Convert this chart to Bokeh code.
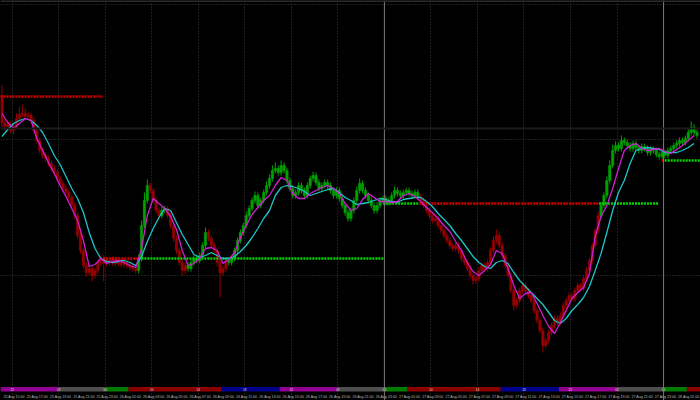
from bokeh.plotting import figure
from bokeh.models import Range1d, FixedTicker, Span, GlobalInlineStyleSheet
from bokeh.core.properties import value
from bokeh.embed import file_html
from bokeh.resources import INLINE

# ---------------- data (M15 bars, prices in points) ----------------
first_open = 305
closes = [
278,274,276,270,274,282,286,287,284,285,280,270,260,250,245,242,237,232,228,222,
217,212,208,203,195,185,165,150,135,128,132,125,130,138,142,137,140,138,141,137,
139,136,138,135,133,132,130,142,175,200,215,210,200,190,185,190,192,185,175,162,
150,138,130,135,132,138,142,140,145,155,168,162,155,150,138,128,132,140,138,142,
150,160,168,175,185,192,200,205,195,200,208,215,222,230,232,228,235,230,220,212,
205,208,215,210,205,215,222,225,218,212,215,218,215,210,205,210,202,195,188,182,
190,200,210,217,210,205,200,195,190,195,200,202,198,200,205,210,207,205,208,210,
207,205,208,204,200,195,190,185,180,182,175,170,165,160,155,152,155,150,142,138,
132,125,120,122,130,135,132,138,150,160,165,155,145,135,125,110,95,100,110,115,
110,105,100,90,80,70,55,60,68,75,82,78,85,95,100,105,102,110,115,112,
122,130,140,155,170,185,195,205,220,235,250,255,252,260,258,255,252,257,253,250,
254,252,248,251,250,246,244,248,245,250,252,255,257,260,258,262,268,273,268,265]
wick_up = [
10,3,4,3,4,5,8,9,5,4,3,3,3,3,3,3,3,3,3,3,
3,3,3,3,3,3,3,3,3,3,4,3,3,3,3,3,3,3,3,3,
3,3,3,3,3,3,3,4,5,8,6,3,3,3,3,4,3,3,3,3,
3,3,3,3,3,3,3,3,3,3,5,3,3,3,3,3,3,3,3,3,
3,3,3,3,4,3,3,4,3,3,3,4,4,5,6,3,5,3,3,3,
3,3,3,3,3,3,3,4,3,3,3,3,3,3,3,3,3,3,3,3,
3,3,4,5,3,3,3,3,3,3,3,3,3,3,3,4,3,3,3,3,
3,3,3,3,3,3,3,3,3,3,3,3,3,3,3,3,3,3,3,3,
3,3,3,3,3,3,3,3,3,4,6,3,3,3,3,3,3,3,3,3,
3,3,3,3,3,3,3,3,3,3,3,3,3,3,3,3,3,3,3,3,
3,3,3,3,3,4,3,3,4,5,6,4,3,5,3,3,3,3,3,3,
3,3,3,3,3,3,3,3,3,3,3,3,3,3,3,3,4,6,3,3]
wick_down = [
6,4,3,3,4,3,3,3,3,3,3,3,3,3,3,3,3,3,3,3,
3,3,3,3,3,3,3,3,3,4,3,6,3,3,3,18,3,3,3,3,
3,3,3,3,3,3,3,3,3,3,3,3,3,3,3,3,3,3,3,3,
3,3,5,3,3,3,3,3,3,3,3,3,3,3,4,25,3,3,3,3,
3,3,3,3,3,3,3,3,3,3,3,3,3,3,3,3,3,3,3,3,
3,3,3,3,3,3,3,3,3,3,3,3,3,3,3,3,3,3,3,3,
3,3,3,3,3,3,3,3,3,3,3,3,3,3,3,3,3,3,3,3,
3,3,3,3,3,3,3,3,3,3,3,3,3,3,3,3,3,3,3,3,
3,3,4,3,3,3,3,3,3,3,3,3,3,3,3,3,5,3,3,3,
3,3,3,3,3,3,7,3,3,3,3,3,3,3,3,3,3,3,3,3,
3,3,3,3,3,3,3,3,3,3,3,3,3,3,3,3,3,3,3,3,
3,3,3,3,3,3,3,3,3,3,3,3,3,3,3,3,3,3,3,3]
# candle colour runs (trend state), as (state, number of bars)
color_runs = [("r",47),("g",4),("r",4),("g",2),("r",7),("g",7),("r",7),("g",66),("r",62),("g",34)]

# moving averages, read every 2 bars
ma_fast = [
287,278,272,277,282,280,262,250,238,227,
215,204,192,180,160,134,136,142,137,139,
140,138,135,133,152,185,202,197,192,184,
171,150,135,137,142,152,153,150,137,141,
148,163,175,186,193,200,205,215,223,220,
207,202,202,207,210,213,215,212,207,197,
190,192,201,207,203,199,199,198,199,205,
207,204,199,193,188,182,175,169,159,150,
138,129,125,130,136,150,147,132,115,102,
107,108,97,85,74,67,78,90,102,108,
113,127,164,184,195,212,232,250,255,257,
252,250,251,252,249,247,251,255,260,265]
ma_slow = [
264,271,277,280,282,280,275,268,257,245,
236,224,212,202,188,168,152,142,139,138,
139,140,138,135,144,159,172,183,192,190,
178,166,156,146,143,145,148,145,142,142,
144,149,155,163,172,182,190,205,213,215,
214,212,209,205,207,209,211,212,208,203,
200,196,197,198,200,202,201,199,198,201,
202,203,203,199,194,187,181,175,167,160,
152,144,138,134,132,138,140,137,128,120,
114,108,102,96,88,80,77,82,90,96,
103,114,130,147,168,190,208,220,237,250,
252,253,252,251,248,248,248,250,253,257]

# support / resistance levels: (start hour, end hour, price, state)
levels = [(0.0, 8.83, 304, "r"), (8.58, 11.85, 142, "r"), (11.85, 32.9, 142, "g"),
          (32.9, 36.0, 197, "g"), (36.0, 51.45, 197, "r"), (51.45, 56.6, 197, "g"),
          (56.85, 57.1, 240, "r"), (57.1, 60.2, 240, "g")]

# time axis: hours counted from 25 Aug 15:00
label_hours = list(range(0, 59, 2))
time_labels = ["25 Aug 15:00","25 Aug 17:00","25 Aug 19:00","25 Aug 21:00","25 Aug 23:00",
               "26 Aug 01:00","26 Aug 03:00","26 Aug 05:00","26 Aug 07:00","26 Aug 09:00",
               "26 Aug 11:00","26 Aug 13:00","26 Aug 15:00","26 Aug 17:00","26 Aug 19:00",
               "26 Aug 21:00","26 Aug 23:00","27 Aug 01:00","27 Aug 03:00","27 Aug 05:00",
               "27 Aug 07:00","27 Aug 09:00","27 Aug 11:00","27 Aug 13:00","27 Aug 15:00",
               "27 Aug 17:00","27 Aug 19:00","27 Aug 21:00","27 Aug 23:00","28 Aug 01:00"]
grid_hours = list(range(1, 58, 4))
grid_tags = ["22","02","06","10","14","18","22","02","06","10","14","18","22","02","06"]
day_sep_hours = [33, 57]
session_start = [0, 5, 9, 11, 19, 24, 29, 33, 35, 43, 48, 53, 57, 59]
session_end = [5, 9, 11, 19, 24, 29, 33, 35, 43, 48, 53, 57, 59, 60.3]
session_kind = ["us", "late", "asia", "eu", "eu2", "us", "late", "asia", "eu", "eu2", "us", "late", "asia", "eu"]
price_grid = [396, 261, 125]
bid_line = 272

# ---------------- styling ----------------
BARS_PER_HOUR = 4
UP, DN = "#00a000", "#960000"
state_col = {"r": DN, "g": UP}
lvl_col = {"r": "#d40000", "g": "#00d400"}
sess_col = {"us": "#920092", "late": "#4e4e4e", "asia": "#007c00", "eu": "#8c0000", "eu2": "#00008c"}

n = len(closes)
opens = [first_open] + closes[:-1]
highs = [max(o, c) + w for o, c, w in zip(opens, closes, wick_up)]
lows = [min(o, c) - w for o, c, w in zip(opens, closes, wick_down)]
states = []
for s, k in color_runs:
    states += [s] * k
cols = [state_col[s] for s in states]
xs = [i + 0.5 for i in range(n)]

p = figure(width=700, height=400, output_backend="svg", toolbar_location=None,
           x_range=Range1d(0, 240.7), y_range=Range1d(0, 400),
           x_axis_location=None, y_axis_location=None, min_border=0)
p.background_fill_color = "#000000"
p.border_fill_color = "#000000"
p.outline_line_color = None
p.stylesheets = [GlobalInlineStyleSheet(css="html,body{margin:0;padding:0;background:#000;overflow:hidden}")]

p.xgrid.ticker = FixedTicker(ticks=[h * BARS_PER_HOUR for h in grid_hours])
p.xgrid.grid_line_color = "#3c3c3c"
p.xgrid.grid_line_dash = "1 2"
p.ygrid.ticker = FixedTicker(ticks=price_grid)
p.ygrid.grid_line_color = "#3c3c3c"
p.ygrid.grid_line_dash = "1 2"

for h in day_sep_hours:
    p.add_layout(Span(location=h * BARS_PER_HOUR, dimension="height", line_color="#7a7a7a", line_width=1))
p.add_layout(Span(location=bid_line, dimension="width", line_color="#1a1a1a", line_width=2))
p.add_layout(Span(location=399.5, dimension="width", line_color="#2a2a2a", line_width=2))

# candles
p.segment(x0=xs, y0=highs, x1=xs, y1=lows, line_color=cols, line_width=1)
p.vbar(x=xs, width=0.85, top=[max(o, c) for o, c in zip(opens, closes)],
       bottom=[min(o, c) for o, c in zip(opens, closes)], fill_color=cols, line_color=cols, line_width=0.5)

# levels
for h0, h1, lv, s in levels:
    p.segment(x0=[h0 * BARS_PER_HOUR], y0=[lv], x1=[h1 * BARS_PER_HOUR], y1=[lv],
              line_color=lvl_col[s], line_width=2.5, line_dash="2 1")

# moving averages
mx = [2 * k + 0.5 for k in range(len(ma_fast))]
p.line(mx, ma_slow, line_color="#1ec4c8", line_width=1.3)
p.line(mx, ma_fast, line_color="#d21ed2", line_width=1.3)

# session band
p.quad(left=[h * BARS_PER_HOUR for h in session_start], right=[h * BARS_PER_HOUR for h in session_end],
       bottom=9, top=13.5, fill_color=[sess_col[k] for k in session_kind], line_color=None)
p.text(x=[h * BARS_PER_HOUR for h in grid_hours], y=[11.25] * len(grid_hours), text=grid_tags,
       text_font=value("Liberation Sans"), text_font_size="3px", text_color="#e0e0e0",
       text_align="center", text_baseline="middle")

# time labels (left-aligned just right of their hour)
p.text(x=[h * BARS_PER_HOUR + 1.0 for h in label_hours], y=[4] * len(label_hours), text=time_labels,
       text_font=value("Liberation Sans"), text_font_size="3.6px", text_color="#b8b8b8",
       text_align="left", text_baseline="middle")

open("out.html", "w").write(file_html(p, INLINE))
